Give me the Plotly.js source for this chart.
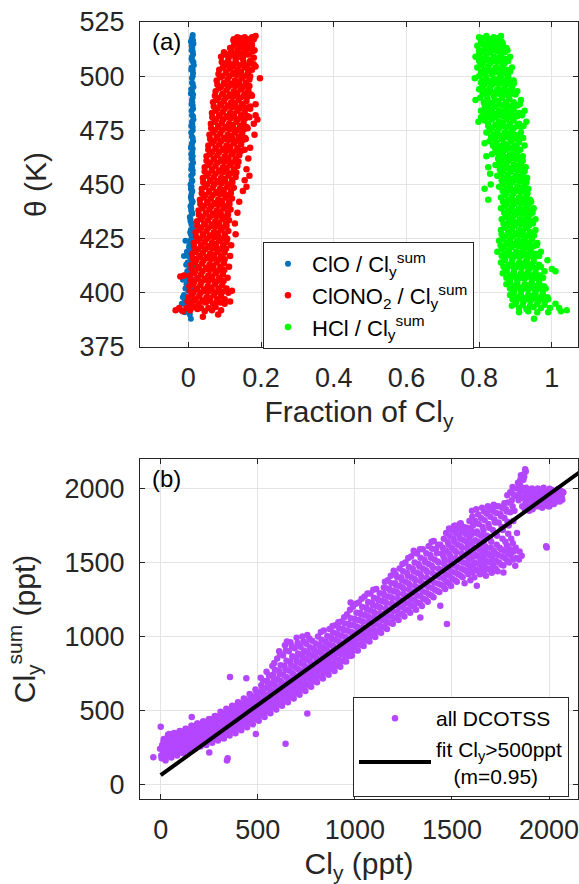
<!DOCTYPE html>
<html>
<head>
<meta charset="utf-8">
<script src="https://cdn.plot.ly/plotly-3.0.1.min.js"></script>
<style>
html,body{margin:0;padding:0;background:#fff;}
#chart{width:579px;height:884px;}
</style>
</head>
<body>
<div id="chart"></div>
<script>
// ---------- DATA ----------
// Panel (a): [fraction of Cly, theta K]
const cloPts = [
[0.012,519],[0.01,517],[0.014,515],[0.009,512],[0.013,510],[0.011,507],[0.015,505],[0.008,503],[0.012,500],[0.01,497],
[0.014,495],[0.007,492],[0.012,490],[0.009,487],[0.013,485],[0.01,482],[0.014,480],[0.008,477],[0.012,475],[0.01,472],
[0.013,470],[0.007,467],[0.011,465],[0.009,462],[0.013,460],[0.008,457],[0.012,455],[0.01,452],[0.006,450],[0.011,447],
[0.008,445],[0.012,442],[0.006,440],[0.01,437],[0.004,435],[0.009,432],[0.012,430],[0.005,428],[0.009,425],[-0.008,424],
[0.003,422],[0.013,421],[-0.004,419],[0.008,418],[0.015,416],[-0.002,414],[0.006,412],[0.012,410],[-0.01,408],[0.004,407],
[0.018,406],[-0.005,404],[0.008,402],[0.014,400],[-0.012,399],[0.002,397],[0.01,396],[-0.018,395],[-0.006,394],[0.006,393],
[-0.02,392],[-0.01,391],[0.004,390],[0.007,388],[0.007,516],[0.009,508],[0.01,493],[0.011,478],[0.009,468],[0.01,458],
[0.007,448],[0.008,438],[0.007,427],[0.0,417],[-0.003,410],[0.0,401],[-0.015,398],[0.015,412],[0.016,423],[0.011,513],
[0.012,503],[0.011,488],[0.012,463],[0.009,443],[0.006,433],[0.004,420],[0.002,405]
];
const cloPtsB = [
[0.011,518],[0.013,516.5],[0.009,514],[0.012,511.5],[0.01,509],[0.014,506.5],[0.009,504],[0.013,501.5],[0.01,499],[0.012,496.5],
[0.008,494],[0.013,491.5],[0.01,489],[0.012,486.5],[0.009,484],[0.013,481.5],[0.01,479],[0.012,476.5],[0.008,474],[0.012,471.5],
[0.01,469],[0.012,466.5],[0.008,464],[0.011,461.5],[0.009,459],[0.012,456.5],[0.008,454],[0.011,451.5],[0.009,449],[0.01,446.5],
[0.007,444],[0.01,441.5],[0.008,439],[0.011,436.5],[0.006,434],[0.009,431.5],[0.007,429],[0.01,426.5],[0.005,424],[0.002,421],
[0.01,419.5],[0.006,415],[-0.006,413],[0.01,409],[0.0,406],[-0.008,402],[0.005,398],[-0.01,396],[0.012,404],[0.016,419],
[-0.012,417],[0.003,411],[-0.015,406],[0.008,395]
];
const clonoPts = [
[0.125,517],[0.135,518],[0.145,517.5],[0.155,518],[0.165,517],[0.175,518],[0.185,518.5],[0.14,516],[0.16,515.5],[0.17,516],
[0.115,513],[0.125,514],[0.135,512],[0.145,513.5],[0.155,512.5],[0.165,513],[0.175,514],[0.182,512],[0.13,515],[0.15,515],
[0.09,509],[0.1,510],[0.11,508],[0.12,509.5],[0.13,507.5],[0.14,509],[0.15,508],[0.16,510],[0.17,507],[0.18,508.5],[0.105,506],[0.125,505.5],
[0.085,503],[0.095,504],[0.105,502],[0.115,503.5],[0.125,501.5],[0.135,503],[0.145,502],[0.155,504],[0.165,502.5],[0.175,503],[0.185,504.5],
[0.078,498],[0.088,499.5],[0.098,497],[0.108,498.5],[0.118,496.5],[0.128,498],[0.138,497.5],[0.148,499],[0.158,497],[0.168,498.5],[0.197,499],
[0.075,493],[0.085,494.5],[0.095,492],[0.105,493.5],[0.115,491.5],[0.125,493],[0.135,492.5],[0.145,494],[0.155,492],[0.165,493.5],[0.175,491],
[0.068,488],[0.078,489],[0.088,487],[0.098,488.5],[0.108,486.5],[0.118,488],[0.128,487.5],[0.138,489],[0.148,487],[0.16,488.5],[0.17,486],[0.185,487],
[0.065,483],[0.075,484],[0.085,482],[0.095,483.5],[0.105,481.5],[0.115,483],[0.125,482.5],[0.135,484],[0.145,482],[0.155,483.5],[0.168,481],[0.185,482],
[0.062,478],[0.072,479],[0.082,477],[0.092,478.5],[0.102,476.5],[0.112,478],[0.122,477.5],[0.132,479],[0.142,477],[0.152,478.5],[0.163,476],[0.18,478],[0.19,480],
[0.058,473],[0.068,474],[0.078,472],[0.088,473.5],[0.098,471.5],[0.108,473],[0.118,472.5],[0.128,474],[0.138,472],[0.148,473.5],[0.158,471],[0.182,473],
[0.055,468],[0.065,469],[0.075,467],[0.085,468.5],[0.095,466.5],[0.105,468],[0.115,467.5],[0.125,469],[0.135,467],[0.145,468.5],[0.155,466],[0.17,467],
[0.05,463],[0.06,464],[0.07,462],[0.08,463.5],[0.09,461.5],[0.1,463],[0.11,462.5],[0.12,464],[0.13,462],[0.14,463.5],[0.165,462],
[0.045,458],[0.055,459],[0.065,457],[0.075,458.5],[0.085,456.5],[0.095,458],[0.105,457.5],[0.115,459],[0.125,457],[0.135,458.5],[0.16,457],
[0.04,453],[0.05,454],[0.06,452],[0.07,453.5],[0.08,451.5],[0.09,453],[0.1,452.5],[0.11,454],[0.12,452],[0.13,453.5],[0.155,452],[0.168,454],
[0.037,448],[0.047,449],[0.057,447],[0.067,448.5],[0.077,446.5],[0.087,448],[0.097,447.5],[0.107,449],[0.117,447],[0.125,448.5],[0.15,447],[0.16,449],
[0.032,443],[0.042,444],[0.052,442],[0.062,443.5],[0.072,441.5],[0.082,443],[0.092,442.5],[0.102,444],[0.112,442],[0.12,443.5],[0.14,442],
[0.028,438],[0.038,439],[0.048,437],[0.058,438.5],[0.068,436.5],[0.078,438],[0.088,437.5],[0.098,439],[0.108,437],[0.116,438.5],[0.135,437],
[0.024,433],[0.034,434],[0.044,432],[0.054,433.5],[0.064,431.5],[0.074,433],[0.084,432.5],[0.094,434],[0.104,432],[0.112,433.5],[0.128,432],
[0.02,428],[0.03,429],[0.04,427],[0.05,428.5],[0.06,426.5],[0.07,428],[0.08,427.5],[0.09,429],[0.1,427],[0.11,428.5],[0.13,427],
[0.015,423],[0.025,424],[0.035,422],[0.045,423.5],[0.055,421.5],[0.065,423],[0.075,422.5],[0.085,424],[0.095,422],[0.105,423.5],[0.118,422],
[0.01,418],[0.02,419],[0.03,417],[0.04,418.5],[0.05,416.5],[0.06,418],[0.07,417.5],[0.08,419],[0.09,417],[0.1,418.5],[0.115,417],
[0.008,413],[0.018,414],[0.028,412],[0.038,413.5],[0.048,411.5],[0.058,413],[0.068,412.5],[0.078,414],[0.088,412],[0.098,413.5],[0.112,412],
[-0.022,407.5],[-0.012,408],[0.005,408],[0.015,409],[0.025,407],[0.035,408.5],[0.045,406.5],[0.055,408],[0.065,407.5],[0.075,409],[0.085,407],[0.095,408.5],[0.108,407],
[0.003,403],[0.013,404],[0.023,402],[0.033,403.5],[0.043,401.5],[0.053,403],[0.063,402.5],[0.073,404],[0.083,402],[0.093,403.5],[0.105,402],[0.12,401],
[0.0,398],[0.01,399],[0.02,397],[0.03,398.5],[0.04,396.5],[0.05,398],[0.06,397.5],[0.07,399],[0.08,397],[0.09,398.5],[0.1,397],[0.115,396],
[-0.035,392],[-0.025,393],[-0.015,391.5],[-0.005,393],[0.005,392],[0.015,393.5],[0.025,392.5],[0.035,393],[0.045,391.5],[0.055,393],[0.065,392],[0.075,393.5],[0.09,392],
[0.04,389],[0.082,390]
];
const clonoPtsB = [
[0.124,516.5],[0.134,515],[0.144,516],[0.154,514.5],[0.164,516.5],[0.174,515],[0.18,517],
[0.098,511],[0.108,510],[0.118,511.5],[0.128,510],[0.138,511],[0.148,510.5],[0.158,512],[0.168,510],[0.178,511.5],
[0.092,506.5],[0.102,505],[0.112,506],[0.122,504.5],[0.132,506],[0.142,505],[0.152,506.5],[0.162,505],[0.172,506],[0.18,505.5],
[0.083,501],[0.093,500],[0.103,501.5],[0.113,500],[0.123,501],[0.133,500.5],[0.143,501.5],[0.153,500],[0.163,501],[0.17,500],
[0.08,496],[0.09,495],[0.1,496.5],[0.11,495],[0.12,496],[0.13,495.5],[0.14,496.5],[0.15,495],[0.16,496],[0.168,495.5],
[0.073,491],[0.083,490],[0.093,491.5],[0.103,490],[0.113,491],[0.123,490.5],[0.133,491.5],[0.143,490],[0.153,491],[0.163,490.5],[0.172,491.5],
[0.07,486],[0.08,485],[0.09,486.5],[0.1,485],[0.11,486],[0.12,485.5],[0.13,486.5],[0.14,485],[0.15,486],[0.16,485.5],[0.17,485],
[0.066,481],[0.076,480],[0.086,481.5],[0.096,480],[0.106,481],[0.116,480.5],[0.126,481.5],[0.136,480],[0.146,481],[0.156,480.5],[0.164,481.5],
[0.063,476],[0.073,475],[0.083,476.5],[0.093,475],[0.103,476],[0.113,475.5],[0.123,476.5],[0.133,475],[0.143,476],[0.153,475.5],[0.16,476.5],
[0.06,471],[0.07,470],[0.08,471.5],[0.09,470],[0.1,471],[0.11,470.5],[0.12,471.5],[0.13,470],[0.14,471],[0.15,470.5],[0.156,471.5],
[0.055,466],[0.065,465],[0.075,466.5],[0.085,465],[0.095,466],[0.105,465.5],[0.115,466.5],[0.125,465],[0.135,466],[0.145,465.5],
[0.05,461],[0.06,460],[0.07,461.5],[0.08,460],[0.09,461],[0.1,460.5],[0.11,461.5],[0.12,460],[0.13,461],[0.138,460.5],
[0.045,456],[0.055,455],[0.065,456.5],[0.075,455],[0.085,456],[0.095,455.5],[0.105,456.5],[0.115,455],[0.125,456],[0.132,455.5],
[0.041,451],[0.051,450],[0.061,451.5],[0.071,450],[0.081,451],[0.091,450.5],[0.101,451.5],[0.111,450],[0.121,451],
[0.037,446],[0.047,445],[0.057,446.5],[0.067,445],[0.077,446],[0.087,445.5],[0.097,446.5],[0.107,445],[0.117,446],
[0.033,441],[0.043,440],[0.053,441.5],[0.063,440],[0.073,441],[0.083,440.5],[0.093,441.5],[0.103,440],[0.113,441],
[0.029,436],[0.039,435],[0.049,436.5],[0.059,435],[0.069,436],[0.079,435.5],[0.089,436.5],[0.099,435],[0.109,436],
[0.025,431],[0.035,430],[0.045,431.5],[0.055,430],[0.065,431],[0.075,430.5],[0.085,431.5],[0.095,430],[0.105,431],
[0.021,426],[0.031,425],[0.041,426.5],[0.051,425],[0.061,426],[0.071,425.5],[0.081,426.5],[0.091,425],[0.101,426],[0.107,425],
[0.016,421],[0.026,420],[0.036,421.5],[0.046,420],[0.056,421],[0.066,420.5],[0.076,421.5],[0.086,420],[0.096,421],[0.104,420.5],
[0.012,416],[0.022,415],[0.032,416.5],[0.042,415],[0.052,416],[0.062,415.5],[0.072,416.5],[0.082,415],[0.092,416],[0.1,415.5],
[0.009,411],[0.019,410],[0.029,411.5],[0.039,410],[0.049,411],[0.059,410.5],[0.069,411.5],[0.079,410],[0.089,411],[0.099,410.5],
[0.006,406],[0.016,405],[0.026,406.5],[0.036,405],[0.046,406],[0.056,405.5],[0.066,406.5],[0.076,405],[0.086,406],[0.097,405.5],
[0.004,401],[0.014,400],[0.024,401.5],[0.034,400],[0.044,401],[0.054,400.5],[0.064,401.5],[0.074,400],[0.084,401],[0.094,400.5],[0.11,400],
[-0.002,396],[0.008,395],[0.018,396.5],[0.028,395],[0.038,396],[0.048,395.5],[0.058,396.5],[0.068,395],[0.078,396],[0.088,395.5],[0.1,395]
];
const hclPts = [
[0.8,518],[0.81,517.5],[0.82,518.5],[0.83,517],[0.84,518],[0.85,517.5],[0.86,518.5],
[0.795,514],[0.805,515],[0.815,513],[0.825,514.5],[0.835,512.5],[0.845,514],[0.855,513.5],[0.865,515],[0.875,513],
[0.79,509],[0.8,510],[0.81,508],[0.82,509.5],[0.83,507.5],[0.84,509],[0.85,508.5],[0.86,510],[0.87,508],[0.885,509],
[0.795,504],[0.805,505],[0.815,503],[0.825,504.5],[0.835,502.5],[0.845,504],[0.855,503.5],[0.865,505],[0.875,503],[0.89,504],
[0.788,499],[0.8,500],[0.81,498],[0.82,499.5],[0.83,497.5],[0.84,499],[0.85,498.5],[0.86,500],[0.87,498],[0.88,499.5],[0.895,498],
[0.8,494],[0.81,495],[0.82,493],[0.83,494.5],[0.84,492.5],[0.85,494],[0.86,493.5],[0.87,495],[0.88,493],[0.89,494.5],[0.905,493],
[0.79,489],[0.803,490],[0.813,488],[0.823,489.5],[0.833,487.5],[0.843,489],[0.853,488.5],[0.863,490],[0.873,488],[0.883,489.5],[0.895,488],[0.915,489],
[0.805,484],[0.815,485],[0.825,483],[0.835,484.5],[0.845,482.5],[0.855,484],[0.865,483.5],[0.875,485],[0.885,483],[0.895,484.5],[0.91,483],[0.925,484],
[0.798,479],[0.805,481],[0.815,479.5],[0.825,478],[0.835,480],[0.845,477.5],[0.855,479],[0.865,478.5],[0.875,480],[0.885,478],[0.895,479.5],[0.91,478],[0.93,479],
[0.82,474],[0.83,475],[0.84,473],[0.85,474.5],[0.86,472.5],[0.87,474],[0.88,473.5],[0.89,475],[0.9,473],[0.915,474],
[0.815,469],[0.828,470],[0.838,468],[0.848,469.5],[0.858,467.5],[0.868,469],[0.878,468.5],[0.888,470],[0.898,468],[0.91,469.5],[0.925,468],
[0.82,463],[0.835,464],[0.845,465],[0.855,463],[0.865,464.5],[0.875,462.5],[0.885,464],[0.895,463.5],[0.905,465],[0.92,463],
[0.825,458],[0.845,459],[0.855,460],[0.865,458],[0.875,459.5],[0.885,457.5],[0.895,459],[0.905,458.5],[0.915,460],[0.928,458],
[0.83,455],[0.85,454],[0.86,455],[0.87,453],[0.88,454.5],[0.89,452.5],[0.9,454],[0.91,453.5],[0.92,455],[0.932,453],
[0.815,448],[0.832,450],[0.855,449],[0.865,450],[0.875,448],[0.885,449.5],[0.895,447.5],[0.905,449],[0.915,448.5],[0.925,450],[0.935,448],
[0.825,443],[0.86,444],[0.87,445],[0.88,443],[0.89,444.5],[0.9,442.5],[0.91,444],[0.92,443.5],[0.93,445],[0.94,443],
[0.86,439],[0.87,440],[0.88,438],[0.89,439.5],[0.9,437.5],[0.91,439],[0.92,438.5],[0.93,440],[0.94,438],[0.95,439],
[0.862,434],[0.872,435],[0.882,433],[0.892,434.5],[0.902,432.5],[0.912,434],[0.922,433.5],[0.932,435],[0.942,433],[0.955,434],
[0.86,429],[0.87,430],[0.88,428],[0.89,429.5],[0.9,427.5],[0.91,429],[0.92,428.5],[0.93,430],[0.94,428],[0.955,429],
[0.855,424],[0.865,425],[0.875,423],[0.885,424.5],[0.895,422.5],[0.905,424],[0.915,423.5],[0.925,425],[0.935,423],[0.945,424.5],[0.96,423],
[0.85,419],[0.862,420],[0.872,418],[0.882,419.5],[0.892,417.5],[0.902,419],[0.912,418.5],[0.922,420],[0.932,418],[0.942,419.5],[0.955,418],[0.97,419],
[0.86,414],[0.87,415],[0.88,413],[0.89,414.5],[0.9,412.5],[0.91,414],[0.92,413.5],[0.93,415],[0.94,413],[0.95,414.5],[0.965,413],[0.988,415],
[0.865,409],[0.875,410],[0.885,408],[0.895,409.5],[0.905,407.5],[0.915,409],[0.925,408.5],[0.935,410],[0.945,408],[0.955,409.5],[0.968,408],[0.98,410],[1.01,410],[1.0,411],
[0.875,404],[0.885,405],[0.895,403],[0.905,404.5],[0.915,402.5],[0.925,404],[0.935,403.5],[0.945,405],[0.955,403],[0.965,404.5],[0.978,403],
[0.885,399],[0.895,400],[0.905,398],[0.915,399.5],[0.925,397.5],[0.935,399],[0.945,398.5],[0.955,400],[0.965,398],[0.975,399.5],[0.988,398],
[0.89,394],[0.9,395],[0.91,393],[0.92,394.5],[0.93,392.5],[0.94,394],[0.95,393.5],[0.96,395],[0.97,393],[0.98,394.5],[0.995,393],[1.01,395],[1.02,393],
[0.91,391],[0.935,391.5],[0.96,391],[0.99,391],[1.025,391.5],[1.041,392],[0.951,388]
];
const hclPtsB = [
[0.805,516.5],[0.815,515],[0.825,516],[0.835,515],[0.845,516.5],[0.855,515.5],[0.862,516],
[0.8,512],[0.81,511],[0.82,512.5],[0.83,511],[0.84,512],[0.85,511.5],[0.86,512.5],[0.87,511],[0.878,512],
[0.8,507],[0.81,506],[0.82,507.5],[0.83,506],[0.84,507],[0.85,506.5],[0.86,507.5],[0.87,506],[0.88,507],
[0.805,502],[0.815,501],[0.825,502.5],[0.835,501],[0.845,502],[0.855,501.5],[0.865,502.5],[0.875,501],[0.885,502],
[0.805,497],[0.815,496],[0.825,497.5],[0.835,496],[0.845,497],[0.855,496.5],[0.865,497.5],[0.875,496],[0.885,497],[0.895,496.5],
[0.81,492],[0.82,491],[0.83,492.5],[0.84,491],[0.85,492],[0.86,491.5],[0.87,492.5],[0.88,491],[0.89,492],[0.9,491.5],
[0.815,487],[0.825,486],[0.835,487.5],[0.845,486],[0.855,487],[0.865,486.5],[0.875,487.5],[0.885,486],[0.895,487],[0.905,486.5],[0.912,487],
[0.815,482],[0.825,481],[0.835,482.5],[0.845,481],[0.855,482],[0.865,481.5],[0.875,482.5],[0.885,481],[0.895,482],[0.905,481.5],[0.918,482],
[0.825,477],[0.835,476],[0.845,477.5],[0.855,476],[0.865,477],[0.875,476.5],[0.885,477.5],[0.895,476],[0.905,477],[0.915,476.5],[0.922,477],
[0.833,472],[0.843,471],[0.853,472.5],[0.863,471],[0.873,472],[0.883,471.5],[0.893,472.5],[0.903,471],[0.913,472],[0.921,471.5],
[0.843,467],[0.853,466],[0.863,467.5],[0.873,466],[0.883,467],[0.893,466.5],[0.903,467.5],[0.913,466],
[0.852,462],[0.862,461],[0.872,462.5],[0.882,461],[0.892,462],[0.902,461.5],[0.912,462.5],[0.92,461],
[0.857,457],[0.867,456],[0.877,457.5],[0.887,456],[0.897,457],[0.907,456.5],[0.917,457.5],[0.925,456],
[0.862,452],[0.872,451],[0.882,452.5],[0.892,451],[0.902,452],[0.912,451.5],[0.922,452.5],[0.93,451],
[0.865,447],[0.875,446],[0.885,447.5],[0.895,446],[0.905,447],[0.915,446.5],[0.925,447.5],[0.933,446],
[0.866,442],[0.876,441],[0.886,442.5],[0.896,441],[0.906,442],[0.916,441.5],[0.926,442.5],[0.936,441],[0.943,442],
[0.869,437],[0.879,436],[0.889,437.5],[0.899,436],[0.909,437],[0.919,436.5],[0.929,437.5],[0.939,436],[0.947,437],
[0.867,432],[0.877,431],[0.887,432.5],[0.897,431],[0.907,432],[0.917,431.5],[0.927,432.5],[0.937,431],[0.948,432],
[0.862,427],[0.872,426],[0.882,427.5],[0.892,426],[0.902,427],[0.912,426.5],[0.922,427.5],[0.932,426],[0.942,427],[0.951,426.5],
[0.859,422],[0.869,421],[0.879,422.5],[0.889,421],[0.899,422],[0.909,421.5],[0.919,422.5],[0.929,421],[0.939,422],[0.949,421.5],[0.958,422],
[0.862,417],[0.872,416],[0.882,417.5],[0.892,416],[0.902,417],[0.912,416.5],[0.922,417.5],[0.932,416],[0.942,417],[0.952,416.5],[0.965,417],
[0.867,412],[0.877,411],[0.887,412.5],[0.897,411],[0.907,412],[0.917,411.5],[0.927,412.5],[0.937,411],[0.947,412],[0.957,411.5],[0.97,412],
[0.875,407],[0.885,406],[0.895,407.5],[0.905,406],[0.915,407],[0.925,406.5],[0.935,407.5],[0.945,406],[0.955,407],[0.965,406.5],[0.976,407],
[0.885,402],[0.895,401],[0.905,402.5],[0.915,401],[0.925,402],[0.935,401.5],[0.945,402.5],[0.955,401],[0.965,402],[0.975,401.5],[0.983,402],
[0.892,397],[0.902,396],[0.912,397.5],[0.922,396],[0.932,397],[0.942,396.5],[0.952,397.5],[0.962,396],[0.972,397],[0.982,396.5],[0.99,397]
];
// Panel (b): [Cly ppt, Cly_sum ppt]
const dcotssPts = [
[5,175],[12,210],[-3,240],[8,265],[15,290],[3,195],[-38,182],[0,388],
[25,160],[32,190],[28,220],[35,250],[22,280],[30,310],[38,335],
[55,180],[62,205],[58,235],[65,262],[52,290],[60,318],[68,345],
[85,195],[92,225],[88,250],[95,280],[82,305],[90,330],[98,360],
[115,210],[122,240],[118,265],[125,295],[112,320],[120,345],[128,375],
[145,225],[152,255],[148,280],[155,310],[142,335],[150,365],[158,395],[160,455],
[175,240],[182,270],[178,300],[185,325],[172,350],[180,380],[188,410],
[205,255],[212,285],[208,315],[215,340],[202,370],[210,395],[218,425],
[235,265],[242,300],[238,330],[245,355],[232,385],[240,410],[248,440],[250,215],
[265,280],[272,315],[268,345],[275,370],[262,400],[270,430],[278,460],
[295,295],[302,330],[298,360],[305,390],[292,420],[300,450],[308,490],
[325,310],[332,345],[328,380],[335,410],[322,440],[330,470],[338,510],[341,160],[345,175],
[355,330],[362,365],[358,400],[365,430],[352,460],[360,495],[368,530],[357,725],
[385,345],[392,385],[388,420],[395,450],[382,480],[390,515],[398,555],
[415,365],[422,405],[418,440],[425,470],[412,505],[420,540],[428,580],[441,716],
[445,385],[452,425],[448,460],[455,495],[442,530],[450,565],[458,610],
[475,405],[482,445],[478,485],[485,520],[472,555],[480,590],[488,640],[490,340],
[505,430],[512,470],[508,510],[515,545],[502,580],[510,620],[518,670],[515,720],
[535,455],[542,495],[538,535],[545,570],[532,610],[540,650],[548,700],[545,760],
[565,480],[572,520],[568,560],[575,600],[562,640],[570,680],[578,740],[575,800],
[595,505],[602,545],[598,585],[605,625],[592,665],[600,710],[608,770],[600,850],[610,900],
[625,530],[632,570],[628,610],[635,650],[622,690],[630,740],[638,800],[630,870],[640,940],[643,273],
[655,555],[662,595],[658,635],[665,675],[652,720],[660,770],[668,830],[660,900],[668,960],
[685,580],[692,620],[688,660],[695,700],[682,745],[690,795],[698,850],[690,920],[700,990],
[715,605],[722,645],[718,690],[725,730],[712,775],[720,820],[728,870],[720,930],[730,1000],
[745,630],[752,675],[748,715],[755,755],[742,800],[750,845],[758,890],[750,950],[755,1010],[755,478],
[775,660],[782,700],[778,740],[785,780],[772,825],[780,870],[788,915],[780,970],
[805,690],[812,730],[808,770],[815,810],[802,850],[810,895],[818,940],[810,1000],
[835,715],[842,755],[838,795],[845,835],[832,875],[840,920],[848,965],[840,1040],
[865,740],[872,780],[868,820],[875,860],[862,900],[870,945],[878,990],[870,1050],
[895,765],[902,805],[898,850],[905,890],[892,930],[900,975],[908,1020],[900,1075],
[925,795],[932,835],[928,880],[935,920],[922,960],[930,1005],[938,1050],[930,1100],
[955,830],[962,870],[958,910],[965,950],[952,995],[960,1040],[968,1085],[960,1150],
[985,870],[992,910],[988,950],[995,990],[982,1030],[990,1075],[998,1120],[990,1200],[978,1230],
[1015,905],[1022,945],[1018,985],[1025,1025],[1012,1065],[1020,1110],[1028,1160],[1020,1230],
[1045,935],[1052,975],[1048,1015],[1055,1055],[1042,1100],[1050,1145],[1058,1195],[1050,1270],
[1075,965],[1082,1005],[1078,1045],[1085,1090],[1072,1130],[1080,1175],[1088,1225],[1080,1290],
[1105,995],[1112,1035],[1108,1080],[1115,1120],[1102,1160],[1110,1205],[1118,1255],[1110,1320],
[1135,1025],[1142,1065],[1138,1110],[1145,1150],[1132,1195],[1140,1240],[1148,1290],[1149,1331],
[1165,1050],[1172,1095],[1168,1140],[1175,1180],[1162,1225],[1170,1270],[1178,1320],[1170,1380],
[1195,1085],[1202,1125],[1198,1170],[1205,1215],[1192,1260],[1200,1305],[1208,1360],[1200,1444],[1210,1420],
[1225,1110],[1232,1155],[1228,1200],[1235,1245],[1222,1290],[1230,1340],[1238,1400],[1230,1460],
[1255,1135],[1262,1180],[1258,1230],[1265,1275],[1252,1320],[1260,1370],[1268,1430],[1260,1500],
[1285,1160],[1292,1205],[1288,1255],[1295,1300],[1282,1350],[1290,1400],[1298,1460],[1290,1540],[1303,1579],
[1315,1180],[1322,1230],[1318,1280],[1325,1330],[1312,1380],[1320,1430],[1328,1490],[1320,1560],[1337,1128],
[1345,1205],[1352,1255],[1348,1305],[1355,1355],[1342,1405],[1350,1460],[1358,1520],[1350,1590],
[1375,1235],[1382,1285],[1378,1335],[1385,1385],[1372,1435],[1380,1490],[1388,1550],[1380,1610],
[1405,1265],[1412,1315],[1408,1365],[1415,1415],[1402,1465],[1410,1520],[1406,1646],[1418,1590],
[1435,1300],[1442,1350],[1438,1400],[1445,1450],[1432,1500],[1440,1207],[1448,1560],[1440,1620],
[1465,1320],[1472,1370],[1468,1420],[1475,1470],[1462,1520],[1470,1580],[1478,1640],[1474,1083],[1470,1700],
[1495,1340],[1502,1390],[1498,1440],[1505,1490],[1492,1540],[1500,1600],[1508,1660],[1500,1720],[1510,1745],
[1525,1370],[1532,1420],[1528,1470],[1535,1520],[1522,1570],[1530,1620],[1538,1680],[1530,1730],[1540,1760],
[1555,1400],[1562,1450],[1558,1500],[1565,1550],[1552,1600],[1560,1650],[1568,1700],[1560,1740],[1565,1360],
[1585,1420],[1592,1470],[1588,1520],[1595,1570],[1582,1620],[1590,1670],[1598,1720],[1590,1780],[1603,1849],[1595,1380],
[1615,1400],[1622,1450],[1618,1500],[1625,1550],[1612,1600],[1620,1650],[1628,1710],[1620,1780],[1628,1342],[1625,1860],
[1645,1420],[1652,1470],[1648,1520],[1655,1570],[1642,1620],[1650,1680],[1658,1740],[1650,1800],[1655,1870],
[1675,1410],[1682,1460],[1678,1510],[1685,1560],[1672,1610],[1680,1680],[1688,1760],[1680,1830],[1685,1880],
[1705,1430],[1712,1480],[1708,1530],[1715,1580],[1702,1640],[1710,1720],[1718,1790],[1710,1850],[1715,1890],
[1735,1440],[1742,1500],[1738,1550],[1745,1600],[1732,1680],[1740,1770],[1748,1830],[1740,1880],[1765,1432],
[1765,1480],[1772,1530],[1768,1580],[1775,1640],[1762,1720],[1770,1800],[1778,1860],[1770,1900],
[1795,1500],[1802,1550],[1798,1590],[1805,1660],[1792,1750],[1800,1840],[1808,1920],[1800,1975],[1812,2010],
[1826,1478],[1832,1530],[1828,1600],[1835,1700],[1822,1850],[1830,1950],[1838,2000],[1840,2040],
[1859,1545],[1862,1880],[1858,1940],[1865,1990],[1852,2020],[1868,2060],[1870,2097],[1877,2131],[1872,2080],
[1885,1880],[1892,1920],[1888,1960],[1895,1990],[1882,2005],[1898,1850],
[1915,1860],[1922,1900],[1918,1940],[1925,1975],[1912,2000],[1930,1880],
[1945,1880],[1952,1910],[1948,1945],[1955,1975],[1942,2000],[1988,1601],[1985,1610],
[1975,1890],[1982,1920],[1978,1950],[1985,1980],[1972,2005],[1990,1935],
[2005,1900],[2012,1930],[2008,1960],[2015,1990],[2002,1880],
[2035,1910],[2042,1940],[2038,1970],[2045,1995],[2050,1925],
[2065,1950],[2072,1975],[2068,1925],[2073,1973]
];
const dcotssPtsB = [
[15,190],[18,225],[13,255],[20,280],[16,305],
[45,190],[48,220],[43,250],[50,280],[46,310],[44,340],
[75,209],[78,234],[73,264],[80,291],[76,319],[72,347],
[105,224],[108,254],[103,279],[110,309],[106,334],[102,359],
[135,239],[138,269],[133,294],[140,324],[136,349],[132,374],
[165,254],[168,284],[163,309],[170,339],[166,364],[162,394],
[195,269],[198,299],[193,329],[200,354],[196,379],[192,409],
[225,285],[228,315],[223,345],[230,370],[226,400],[222,425],
[255,296],[258,331],[253,361],[260,386],[256,416],[252,441],
[285,311],[288,346],[283,376],[290,401],[286,431],[282,461],
[315,327],[318,362],[313,392],[320,422],[316,452],[312,482],
[345,343],[348,378],[343,413],[350,443],[346,473],[342,503],
[375,363],[378,398],[373,433],[380,463],[376,493],[372,528],
[405,379],[408,419],[403,454],[410,484],[406,514],[402,549],
[435,399],[438,439],[433,474],[440,504],[436,539],[432,574],
[465,420],[468,460],[463,495],[470,530],[466,565],[462,600],
[495,440],[498,480],[493,520],[500,555],[496,590],[492,625],
[525,465],[528,505],[523,545],[530,580],[526,615],[522,655],[528,700],
[555,490],[558,530],[553,570],[560,605],[556,645],[552,685],[558,735],
[585,515],[588,555],[583,595],[590,635],[586,675],[582,715],[588,775],[585,820],
[615,540],[618,580],[613,620],[620,660],[616,700],[612,745],[618,805],[615,880],
[645,565],[648,605],[643,645],[650,685],[646,725],[642,775],[648,835],[645,905],[650,965],
[675,590],[678,630],[673,670],[680,710],[676,755],[672,805],[678,865],[675,935],
[705,615],[708,655],[703,695],[710,735],[706,780],[702,830],[708,885],[705,955],
[735,640],[738,680],[733,725],[740,765],[736,810],[732,855],[738,905],[735,965],
[765,667],[768,712],[763,752],[770,792],[766,837],[762,882],[768,927],[765,985],
[795,697],[798,737],[793,777],[800,817],[796,862],[792,907],[798,952],
[825,727],[828,767],[823,807],[830,847],[826,887],[822,932],[828,977],[825,1030],
[855,752],[858,792],[853,832],[860,872],[856,912],[852,957],[858,1002],
[885,777],[888,817],[883,857],[890,897],[886,937],[882,982],[888,1027],[885,1070],
[915,802],[918,842],[913,887],[920,927],[916,967],[912,1012],[918,1057],[915,1095],
[945,832],[948,872],[943,917],[950,957],[946,997],[942,1042],[948,1087],[945,1130],
[975,867],[978,907],[973,947],[980,987],[976,1032],[972,1077],[978,1122],[975,1180],
[1005,907],[1008,947],[1003,987],[1010,1027],[1006,1067],[1002,1112],[1008,1160],[1005,1220],
[1035,942],[1038,982],[1033,1022],[1040,1062],[1036,1102],[1032,1148],[1038,1198],[1035,1255],
[1065,972],[1068,1012],[1063,1052],[1070,1092],[1066,1137],[1062,1182],[1068,1232],[1065,1290],
[1095,1002],[1098,1042],[1093,1082],[1100,1127],[1096,1167],[1092,1212],[1098,1262],[1095,1315],
[1125,1032],[1128,1072],[1123,1117],[1130,1157],[1126,1197],[1122,1242],[1128,1292],
[1155,1062],[1158,1102],[1153,1147],[1160,1187],[1156,1232],[1152,1277],[1158,1327],[1155,1370],
[1185,1090],[1188,1135],[1183,1180],[1190,1220],[1186,1265],[1182,1310],[1188,1360],[1185,1410],
[1215,1125],[1218,1165],[1213,1210],[1220,1255],[1216,1300],[1212,1345],[1218,1400],
[1245,1150],[1248,1195],[1243,1240],[1250,1285],[1246,1330],[1242,1380],[1248,1440],[1245,1490],
[1275,1175],[1278,1220],[1273,1270],[1280,1315],[1276,1360],[1272,1410],[1278,1470],[1275,1530],
[1305,1200],[1308,1245],[1303,1295],[1310,1340],[1306,1390],[1302,1440],[1308,1500],[1305,1565],
[1335,1222],[1338,1272],[1333,1322],[1340,1372],[1336,1422],[1332,1472],[1338,1532],[1335,1590],
[1365,1247],[1368,1297],[1363,1347],[1370,1397],[1366,1447],[1362,1502],[1368,1562],
[1395,1277],[1398,1327],[1393,1377],[1400,1427],[1396,1477],[1392,1532],[1398,1592],[1395,1640],
[1425,1307],[1428,1357],[1423,1407],[1430,1457],[1426,1507],[1422,1562],[1428,1620],
[1455,1340],[1458,1390],[1453,1440],[1460,1490],[1456,1540],[1452,1600],[1458,1660],
[1485,1360],[1488,1410],[1483,1460],[1490,1510],[1486,1560],[1482,1620],[1488,1680],[1485,1730],
[1515,1380],[1518,1430],[1513,1480],[1520,1530],[1516,1580],[1512,1640],[1518,1700],[1515,1750],
[1545,1410],[1548,1460],[1543,1510],[1550,1560],[1546,1610],[1542,1660],[1548,1715],[1545,1765],
[1575,1440],[1578,1490],[1573,1540],[1580,1590],[1576,1640],[1572,1690],[1578,1735],
[1605,1435],[1608,1485],[1603,1535],[1610,1585],[1606,1635],[1602,1690],[1608,1750],[1605,1810],
[1635,1440],[1638,1490],[1633,1540],[1640,1590],[1636,1640],[1632,1695],[1638,1760],[1635,1825],
[1665,1440],[1668,1490],[1663,1540],[1670,1590],[1666,1645],[1662,1715],[1668,1785],[1665,1845],
[1695,1450],[1698,1500],[1693,1550],[1700,1600],[1696,1660],[1692,1735],[1698,1810],[1695,1860],
[1725,1460],[1728,1510],[1723,1560],[1730,1620],[1726,1700],[1722,1770],[1728,1835],[1725,1880],
[1755,1485],[1758,1540],[1753,1590],[1760,1660],[1756,1740],[1752,1815],[1758,1870],
[1785,1510],[1788,1565],[1783,1615],[1790,1695],[1786,1775],[1782,1845],[1788,1905],[1785,1955],
[1815,1520],[1818,1575],[1813,1630],[1816,1780],[1812,1880],[1818,1960],[1815,2000],
[1845,1520],[1848,1575],[1843,1920],[1850,1975],[1846,2020],[1852,2060],[1855,2090],
[1875,1860],[1878,1900],[1873,1935],[1880,1970],[1876,2000],[1880,2115],
[1905,1880],[1908,1920],[1903,1960],[1910,1990],
[1935,1885],[1938,1920],[1933,1958],[1940,1988],
[1965,1870],[1968,1905],[1963,1935],[1970,1965],[1966,1992],
[1995,1880],[1998,1912],[1993,1942],[2000,1972],[2003,1998],
[2025,1895],[2028,1925],[2023,1952],[2030,1980],
[2055,1912],[2058,1940],[2053,1965],[2060,1985]
];
// Fit line end points (Cly > 500 ppt, slope 0.95)
const fitCly = [0, 2200];
const fitClySum = [61, 2151];

// Ticks
const thetaTicks = [375, 400, 425, 450, 475, 500, 525];
const fracTicks = [0, 0.2, 0.4, 0.6, 0.8, 1];
const clyTicks = [0, 500, 1000, 1500, 2000];

// Legend names
const names = {
  clo: 'ClO / Cl<sub>y</sub><sup>sum</sup>',
  clono: 'ClONO<sub>2</sub> / Cl<sub>y</sub><sup>sum</sup>',
  hcl: 'HCl / Cl<sub>y</sub><sup>sum</sup>',
  all: 'all DCOTSS',
  fit: 'fit Cl<sub>y</sub>>500ppt<br>\u00a0\u00a0\u00a0(m=0.95)'
};

// ---------- PLOT ----------
const FONT = 'Liberation Sans, Arial, Helvetica, sans-serif';
const TXT = '#262626';
const xs = a => a.map(p => p[0]);
const ys = a => a.map(p => p[1]);
const clo = cloPts.concat(cloPtsB);
const clono = clonoPts.concat(clonoPtsB);
const hcl = hclPts.concat(hclPtsB);
const dcotss = dcotssPts.concat(dcotssPtsB);

const traces = [
  {x: xs(clo), y: ys(clo), xaxis:'x', yaxis:'y', mode:'markers', type:'scatter', name: names.clo,
   marker:{color:'#0072BD', size:6, line:{width:0}}, legend:'legend'},
  {x: xs(clono), y: ys(clono), xaxis:'x', yaxis:'y', mode:'markers', type:'scatter', name: names.clono,
   marker:{color:'#FF0000', size:6.5, line:{width:0}}, legend:'legend'},
  {x: xs(hcl), y: ys(hcl), xaxis:'x', yaxis:'y', mode:'markers', type:'scatter', name: names.hcl,
   marker:{color:'#00FF00', size:6.5, line:{width:0}}, legend:'legend'},
  {x: xs(dcotss), y: ys(dcotss), xaxis:'x2', yaxis:'y2', mode:'markers', type:'scatter', name: names.all,
   marker:{color:'#B446FF', size:6.5, line:{width:0}}, legend:'legend2'},
  {x: fitCly, y: fitClySum, xaxis:'x2', yaxis:'y2', mode:'lines', type:'scatter', name: names.fit,
   line:{color:'#000000', width:4}, legend:'legend2'}
];

const axisCommon = {
  showline:true, linecolor:TXT, linewidth:1, mirror:'ticks',
  ticks:'inside', ticklen:5, tickwidth:1, tickcolor:TXT,
  showgrid:true, gridcolor:'#e3e3e3', gridwidth:1, zeroline:false,
  tickfont:{family:FONT, size:27, color:TXT}
};

const layout = {
  width:579, height:884,
  margin:{l:140, r:1, t:22, b:85},
  paper_bgcolor:'#ffffff', plot_bgcolor:'#ffffff',
  font:{family:FONT, color:TXT},
  xaxis: Object.assign({}, axisCommon, {
    domain:[0,1], anchor:'y', range:[-0.133, 1.072],
    tickmode:'array', tickvals: fracTicks, ticktext: fracTicks.map(String),
    ticklabelstandoff: 7,
    title:{text:'Fraction of Cl<sub>y</sub>', font:{family:FONT, size:30, color:TXT}, standoff:8}
  }),
  yaxis: Object.assign({}, axisCommon, {
    domain:[0.5817,1], anchor:'x', range:[375,525],
    tickmode:'array', tickvals: thetaTicks, ticktext: thetaTicks.map(String),
    ticklabelstandoff: 9,
    title:{text:'\u03b8 (K)', font:{family:FONT, size:30, color:TXT}, standoff:24}
  }),
  xaxis2: Object.assign({}, axisCommon, {
    domain:[0,1], anchor:'y2', range:[-106.6, 2149],
    tickmode:'array', tickvals: clyTicks, ticktext: clyTicks.map(String),
    ticklabelstandoff: 7, ticklabeloverflow:'allow',
    title:{text:'Cl<sub>y</sub> (ppt)', font:{family:FONT, size:30, color:TXT}, standoff:10}
  }),
  yaxis2: Object.assign({}, axisCommon, {
    domain:[0,0.4376], anchor:'x2', range:[-100,2200],
    tickmode:'array', tickvals: clyTicks, ticktext: clyTicks.map(String),
    ticklabelstandoff: 9,
    title:{text:'Cl<sub>y</sub><sup>sum</sup> (ppt)', font:{family:FONT, size:30, color:TXT}, standoff:20}
  }),
  legend:{
    x:0.2808, y:0.7169, xanchor:'left', yanchor:'top', xref:'paper', yref:'paper',
    bgcolor:'#ffffff', bordercolor:TXT, borderwidth:1,
    font:{family:FONT, size:22, color:'#000000'}, itemwidth:38, tracegroupgap:0
  },
  legend2:{
    x:0.4863, y:0.1313, xanchor:'left', yanchor:'top', xref:'paper', yref:'paper',
    bgcolor:'#ffffff', bordercolor:TXT, borderwidth:1,
    font:{family:FONT, size:21, color:'#000000'}, itemwidth:72, tracegroupgap:0
  },
  annotations:[
    {text:'(a)', xref:'paper', yref:'paper', x:0.0228, y:0.9755, xanchor:'left', yanchor:'middle',
     showarrow:false, font:{family:FONT, size:24, color:'#000000'}},
    {text:'(b)', xref:'paper', yref:'paper', x:0.0228, y:0.4131, xanchor:'left', yanchor:'middle',
     showarrow:false, font:{family:FONT, size:24, color:'#000000'}}
  ],
  showlegend:true
};

Plotly.newPlot('chart', traces, layout, {displayModeBar:false, staticPlot:true});
</script>
</body>
</html>
